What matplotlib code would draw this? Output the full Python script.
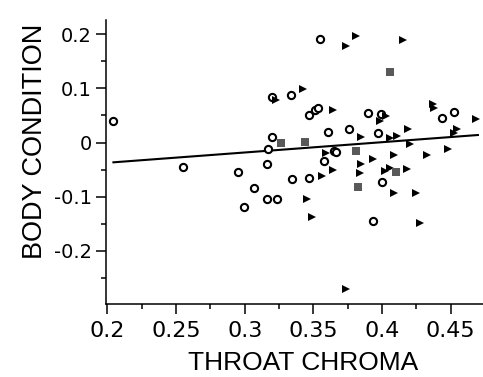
import matplotlib
matplotlib.use("Agg")
import matplotlib.pyplot as plt
from matplotlib.ticker import FixedLocator

plt.rcParams['font.family'] = ['Liberation Sans', 'DejaVu Sans']

# open circles
circle_x = [0.2041, 0.2553, 0.2951, 0.2992, 0.3067, 0.3159, 0.3234, 0.3164, 0.3169, 0.3196,
            0.3200, 0.3334, 0.3345, 0.3547, 0.3469, 0.3513, 0.3530, 0.3467, 0.3578, 0.3603,
            0.3647, 0.3663, 0.3761, 0.3898, 0.3967, 0.3994, 0.4000, 0.3935, 0.4436, 0.4524]
circle_y = [0.0397, -0.0447, -0.0551, -0.1192, -0.0835, -0.1044, -0.1044, -0.0403, -0.0115, 0.0102,
            0.0835, 0.0878, -0.0675, 0.1913, 0.0503, 0.0601, 0.0632, -0.0656, -0.0348, 0.0194,
            -0.0152, -0.0176, 0.0244, 0.0540, 0.0179, 0.0527, -0.0730, -0.1457, 0.0462, 0.0573]

# filled triangles
tri_x = [0.3225, 0.3809, 0.3741, 0.4153, 0.3425, 0.3644, 0.4371, 0.4376, 0.4681, 0.4548,
         0.4524, 0.4191, 0.4027, 0.3983, 0.3850, 0.4056, 0.4111, 0.4205, 0.4480, 0.4330,
         0.4085, 0.3932, 0.3591, 0.3850, 0.3644, 0.3561, 0.3838, 0.4025, 0.4056, 0.4180,
         0.4085, 0.4247, 0.3450, 0.3492, 0.4278, 0.3741]
tri_y = [0.0786, 0.1969, 0.1789, 0.1895, 0.0989, 0.0601, 0.0712, 0.0647, 0.0429, 0.0259,
         0.0181, 0.0259, 0.0499, 0.0392, 0.0111, 0.0083, 0.0120, -0.0028, -0.0126, -0.0235,
         -0.0231, -0.0305, -0.0200, -0.0397, -0.0508, -0.0619, -0.0555, -0.0518, -0.0477, -0.0481,
         -0.0924, -0.0924, -0.1035, -0.1383, -0.1488, -0.2714]

# grey squares
sq_x = [0.3263, 0.3441, 0.4060, 0.3812, 0.4102, 0.3825]
sq_y = [-0.0018, 0.0009, 0.1298, -0.0163, -0.0549, -0.0826]

# regression line ends
fit_x = [0.2044, 0.4698]
fit_y = [-0.0366, 0.0139]

xticks = [0.2, 0.25, 0.3, 0.35, 0.4, 0.45]
xtick_labels = ['0.2', '0.25', '0.3', '0.35', '0.4', '0.45']
yticks = [-0.2, -0.1, 0, 0.1, 0.2]
ytick_labels = ['-0.2', '-0.1', '0', '0.1', '0.2']

fig = plt.figure(figsize=(4.83, 3.77), dpi=100)
ax = fig.add_axes([106 / 483, 73 / 377, 377 / 483, 284 / 377])

ax.plot(fit_x, fit_y, color='black', lw=1.5, zorder=2)
ax.plot(circle_x, circle_y, 'o', ms=5.2, mfc='white', mec='black', mew=1.5, ls='none', zorder=3)
ax.plot(tri_x, tri_y, '>', ms=5.4, color='black', mew=0, ls='none', zorder=3)
ax.plot(sq_x, sq_y, 's', ms=5.3, color='#595959', mew=0, ls='none', zorder=3)

ax.set_xlim(0.199, 0.4735)
ax.set_ylim(-0.2985, 0.2265)

ax.xaxis.set_major_locator(FixedLocator(xticks))
ax.xaxis.set_minor_locator(FixedLocator([0.225, 0.275, 0.325, 0.375, 0.425, 0.475]))
ax.yaxis.set_major_locator(FixedLocator(yticks))
ax.yaxis.set_minor_locator(FixedLocator([-0.25, -0.15, -0.05, 0.05, 0.15]))
ax.set_xticklabels(xtick_labels, family='DejaVu Sans', fontsize=16)
ax.set_yticklabels(ytick_labels, family='DejaVu Sans', fontsize=14)

for s in ['top', 'right']:
    ax.spines[s].set_visible(False)
for s in ['left', 'bottom']:
    ax.spines[s].set_linewidth(1.1)

ax.tick_params(which='major', direction='out', length=7, width=1.1)
ax.tick_params(axis='x', which='major', pad=5)
ax.tick_params(axis='y', which='major', pad=3)
ax.tick_params(which='minor', direction='out', length=3.5, width=1.1)

ax.set_xlabel('THROAT CHROMA', fontsize=19, va='baseline')
ax.xaxis.set_label_coords((303 - 106) / 377, (304 - 370) / 284)
ax.set_ylabel('BODY CONDITION', fontsize=19.5, va='center')
ax.yaxis.set_label_coords((35 - 106) / 377, (304 - 141.5) / 284)

fig.savefig('out.png', dpi=100)
